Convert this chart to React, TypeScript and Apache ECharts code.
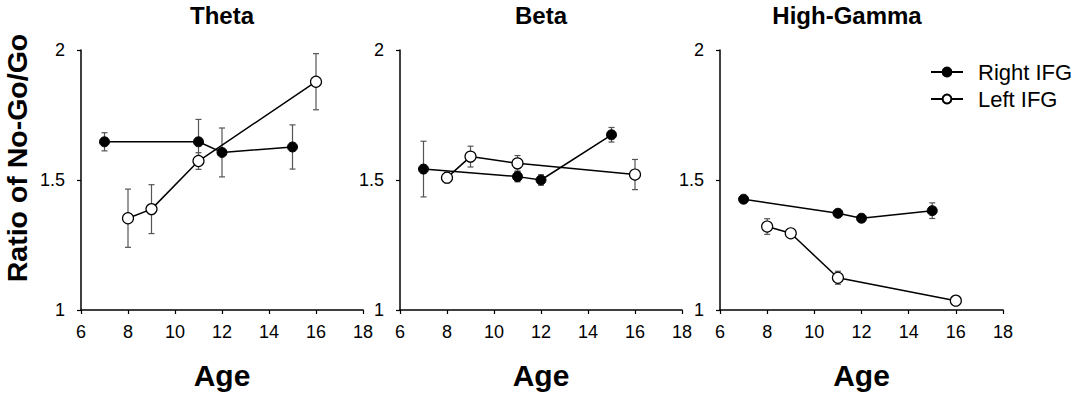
import React, { useEffect, useRef } from "react";
import * as echarts from "echarts";

const panelTitles = ["Theta", "Beta", "High-Gamma"];
const xTicks = { min: 6, max: 18, interval: 2 };
const yTicks = { min: 1, max: 2, interval: 0.5 };

const rightAges = [7, 11, 12, 15];
const leftAges = [8, 9, 11, 16];

const thetaRight = [1.647, 1.647, 1.606, 1.627];
const thetaRightErr = [0.035, 0.086, 0.094, 0.085];
const thetaLeft = [1.353, 1.388, 1.573, 1.878];
const thetaLeftErr = [0.112, 0.094, 0.032, 0.108];

const betaRight = [1.542, 1.513, 1.5, 1.674];
const betaRightErr = [0.107, 0.02, 0.02, 0.028];
const betaLeft = [1.509, 1.59, 1.564, 1.521];
const betaLeftErr = [0.02, 0.04, 0.03, 0.058];

const gammaRight = [1.426, 1.372, 1.353, 1.382];
const gammaRightErr = [0.01, 0.015, 0.012, 0.03];
const gammaLeft = [1.321, 1.295, 1.124, 1.036];
const gammaLeftErr = [0.03, 0.01, 0.025, 0.01];

const panels = [
  { right: thetaRight, rightErr: thetaRightErr, left: thetaLeft, leftErr: thetaLeftErr },
  { right: betaRight, rightErr: betaRightErr, left: betaLeft, leftErr: betaLeftErr },
  { right: gammaRight, rightErr: gammaRightErr, left: gammaLeft, leftErr: gammaLeftErr },
];

const FONT = "'Liberation Sans', Arial, sans-serif";

const grids = [
  { left: 81, top: 50, width: 282, height: 260 },
  { left: 400, top: 50, width: 282, height: 260 },
  { left: 720, top: 50, width: 283, height: 260 },
];
const titleCenters = [222, 541, 847];

function errorSeries(ages: number[], vals: number[], errs: number[], idx: number) {
  return {
    type: "custom",
    xAxisIndex: idx,
    yAxisIndex: idx,
    z: 1,
    silent: true,
    data: ages.map((a, i) => [a, vals[i] - errs[i], vals[i] + errs[i]]),
    renderItem: (params: any, api: any) => {
      const lo = api.coord([api.value(0), api.value(1)]);
      const hi = api.coord([api.value(0), api.value(2)]);
      const cap = 3;
      const style = { stroke: "#555", lineWidth: 1.2 };
      return {
        type: "group",
        children: [
          { type: "line", shape: { x1: lo[0], y1: lo[1], x2: hi[0], y2: hi[1] }, style },
          { type: "line", shape: { x1: lo[0] - cap, y1: lo[1], x2: lo[0] + cap, y2: lo[1] }, style },
          { type: "line", shape: { x1: hi[0] - cap, y1: hi[1], x2: hi[0] + cap, y2: hi[1] }, style },
        ],
      };
    },
  };
}

export default function App() {
  const ref = useRef<HTMLDivElement>(null);
  useEffect(() => {
    if (!ref.current) return;
    const chart = echarts.init(ref.current, null, { renderer: "svg" });
    const axisLine = { show: true, lineStyle: { color: "#000", width: 1.5 } };
    const series: any[] = [];
    panels.forEach((p, i) => {
      series.push(errorSeries(rightAges, p.right, p.rightErr, i));
      series.push(errorSeries(leftAges, p.left, p.leftErr, i));
      series.push({
        name: "Right IFG",
        type: "line",
        xAxisIndex: i,
        yAxisIndex: i,
        z: 3,
        symbol: "circle",
        symbolSize: 10,
        data: rightAges.map((a, k) => [a, p.right[k]]),
        lineStyle: { color: "#000", width: 1.5 },
        itemStyle: { color: "#000", borderColor: "#000", borderWidth: 1 },
      });
      series.push({
        name: "Left IFG",
        type: "line",
        xAxisIndex: i,
        yAxisIndex: i,
        z: 4,
        symbol: "circle",
        symbolSize: 11,
        data: leftAges.map((a, k) => [a, p.left[k]]),
        lineStyle: { color: "#000", width: 1.5 },
        itemStyle: { color: "#fff", borderColor: "#000", borderWidth: 1.2 },
      });
    });
    chart.setOption({
      animation: false,
      backgroundColor: "#fff",
      textStyle: { fontFamily: FONT },
      title: panelTitles.map((t, i) => ({
        text: t,
        left: titleCenters[i],
        top: 3,
        padding: 0,
        textAlign: "center",
        textStyle: { fontFamily: FONT, fontWeight: "bold", fontSize: 24, color: "#000" },
      })),
      legend: {
        orient: "vertical",
        left: 930,
        top: 61,
        padding: 0,
        itemWidth: 32,
        itemHeight: 11,
        itemGap: 5,
        data: ["Right IFG", "Left IFG"],
        textStyle: { fontFamily: FONT, fontSize: 22, color: "#000", padding: [0, 0, 0, 10] },
      },
      grid: grids,
      xAxis: grids.map((_, i) => ({
        type: "value",
        gridIndex: i,
        min: xTicks.min,
        max: xTicks.max,
        interval: xTicks.interval,
        axisLine,
        axisTick: { show: true, length: 4, lineStyle: { color: "#000", width: 1.2 } },
        axisLabel: { fontFamily: FONT, fontSize: 18, color: "#000", margin: 13 },
        splitLine: { show: false },
        name: "Age",
        nameLocation: "middle",
        nameGap: 50,
        nameTextStyle: { fontFamily: FONT, fontSize: 30, fontWeight: "bold", color: "#000" },
      })),
      yAxis: grids.map((_, i) => ({
        type: "value",
        gridIndex: i,
        min: yTicks.min,
        max: yTicks.max,
        interval: yTicks.interval,
        axisLine,
        axisTick: { show: true, length: 4, lineStyle: { color: "#000", width: 1.2 } },
        axisLabel: {
          fontFamily: FONT,
          fontSize: 18,
          color: "#000",
          margin: 16,
          formatter: (v: number) => String(v),
        },
        splitLine: { show: false },
      })),
      graphic: [
        {
          type: "text",
          x: 17,
          y: 158,
          rotation: Math.PI / 2,
          style: {
            text: "Ratio of No-Go/Go",
            fontFamily: FONT,
            fontSize: 28.5,
            fontWeight: "bold",
            fill: "#000",
            align: "center",
            verticalAlign: "middle",
          },
        },
      ],
      series,
    });
    return () => chart.dispose();
  }, []);
  return (
    <div
      ref={ref}
      style={{ position: "absolute", left: 0, top: 0, width: 1084, height: 400 }}
    />
  );
}
